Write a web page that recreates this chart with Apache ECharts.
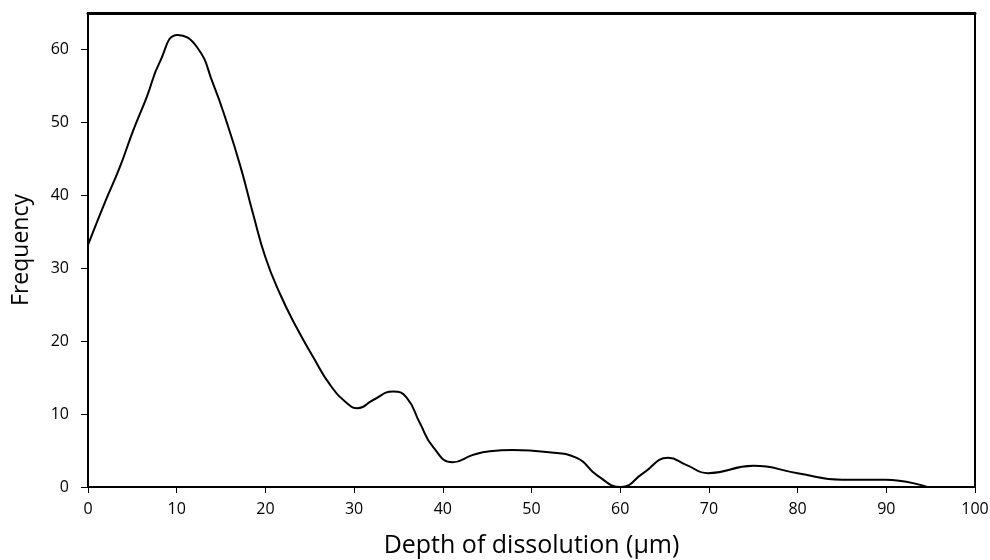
<!DOCTYPE html>
<html>
<head>
<meta charset="utf-8">
<script src="https://cdn.jsdelivr.net/npm/echarts@6/dist/echarts.min.js"></script>
<style>html,body{margin:0;padding:0;background:#fff}#c{width:990px;height:560px}</style>
</head>
<body>
<div id="c"></div>
<script>
const depth = [0, 2, 3.6, 5.1, 6.6, 8.1, 10.1, 12.3, 14.1, 15.7, 17.2, 18.6, 20, 21.6, 23.5, 25.4, 27.3, 29.2, 30.4, 32.1, 34.4, 35.9, 37.4, 38.9, 41.1, 43.4, 45.3, 47.9, 51.7, 55.1, 57.4, 60.1, 62.6, 65.4, 67.5, 69.9, 75, 80, 85, 89.9, 94.6];
const frequency = [33.2, 39.3, 43.9, 48.9, 53.4, 58.3, 62, 60.3, 55.3, 49.8, 43.9, 37.5, 31.5, 26.6, 21.9, 17.8, 14, 11.5, 10.8, 11.9, 13.1, 12.3, 8.8, 5.5, 3.4, 4.4, 4.9, 5.07, 4.8, 4, 1.6, 0, 1.9, 4, 3, 1.9, 2.9, 1.9, 1, 1, 0];
const xTicks = [0, 10, 20, 30, 40, 50, 60, 70, 80, 90, 100];
const yTicks = [0, 10, 20, 30, 40, 50, 60];
const xTitle = 'Depth of dissolution (\u00b5m)';
const yTitle = 'Frequency';

const chart = echarts.init(document.getElementById('c'), null, {renderer: 'canvas'});
const font = 'Open Sans';
chart.setOption({
  animation: false,
  grid: {left: 88, right: 15, top: 13, bottom: 73, show: false, containLabel: false, outerBoundsMode: 'none'},
  xAxis: [{
    type: 'value', min: 0, max: 100, interval: 10,
    name: xTitle, nameLocation: 'middle', nameGap: 46,
    nameTextStyle: {fontFamily: font, fontSize: 25, color: '#000'},
    axisLine: {show: true, onZero: false, lineStyle: {color: '#000', width: 2}},
    axisTick: {show: true, inside: false, length: 6, customValues: xTicks, lineStyle: {color: '#000', width: 1}},
    axisLabel: {fontFamily: font, fontSize: 16, color: '#000', margin: 14, customValues: xTicks},
    splitLine: {show: false}
  }, {
    type: 'value', min: 0, max: 100, position: 'top',
    axisLine: {show: true, onZero: false, lineStyle: {color: '#000', width: 3}},
    axisTick: {show: false}, axisLabel: {show: false}, splitLine: {show: false}
  }],
  yAxis: [{
    type: 'value', min: 0, max: 65, interval: 10,
    name: yTitle, nameLocation: 'middle', nameGap: 55,
    nameTextStyle: {fontFamily: font, fontSize: 23, color: '#000'},
    axisLine: {show: true, onZero: false, lineStyle: {color: '#000', width: 2}},
    axisTick: {show: true, inside: false, length: 7, customValues: yTicks, lineStyle: {color: '#000', width: 1}},
    axisLabel: {fontFamily: font, fontSize: 16, color: '#000', margin: 19, customValues: yTicks},
    splitLine: {show: false}
  }, {
    type: 'value', min: 0, max: 65, position: 'right',
    axisLine: {show: true, onZero: false, lineStyle: {color: '#000', width: 2}},
    axisTick: {show: false}, axisLabel: {show: false}, splitLine: {show: false}
  }],
  series: [{
    type: 'line',
    xAxisIndex: 0, yAxisIndex: 0,
    data: depth.map((d, i) => [d, frequency[i]]),
    smooth: 0.5,
    showSymbol: false,
    lineStyle: {color: '#000', width: 2},
    clip: true
  }]
});
</script>
</body>
</html>
